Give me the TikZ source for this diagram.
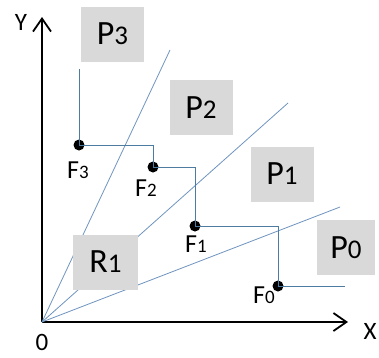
\documentclass[tikz,border=0pt]{standalone}
\usepackage{fontspec}
\setmainfont{Carlito}
\usetikzlibrary{arrows.meta,calc,positioning}

\definecolor{boxgray}{RGB}{217,217,217}
\definecolor{rayblue}{RGB}{110,148,190}
\definecolor{stepblue}{RGB}{78,124,160}

% region label: big letter, smaller index on the same baseline
\newcommand{\reglab}[2]{\fontsize{34}{34}\selectfont #1\fontsize{27}{27}\selectfont #2}
% point label
\newcommand{\ptlab}[2]{\fontsize{26}{26}\selectfont #1\fontsize{19}{19}\selectfont #2}

\tikzset{
  region/.style={fill=boxgray,inner sep=0pt,minimum width=63pt,minimum height=55pt},
  ray/.style={rayblue,line width=0.8pt},
  stepline/.style={stepblue,line width=0.9pt},
  fpoint/.style={circle,fill=black,inner sep=0pt,minimum size=11pt},
  axis/.style={line width=1.8pt,-{Straight Barb[length=13pt,width=18pt,line width=1.8pt]}},
  axlab/.style={inner sep=0pt,font=\fontsize{25}{25}\selectfont}
}

\begin{document}
\begin{tikzpicture}[x=1pt,y=-1pt]
    \useasboundingbox (0,0) rectangle (379,357);

    % axes
    \coordinate (O) at (42,322);
    \coordinate (xend) at (348,322);
    \coordinate (yend) at (42,17);
    \draw[axis] (O) -- (xend);
    \draw[axis] (O) -- (yend);
    \node[axlab] (ylab) at (21,22) {Y};
    \node[axlab] (xlab) at (370,331) {X};
    \node[axlab,font=\fontsize{25}{25}\selectfont] (olab) at (42,342) {0};

    % rays from the origin
    \coordinate (r3) at (170,50);
    \coordinate (r2) at (288,103);
    \coordinate (r1) at (340,207);
    \draw[ray] (O) -- (r3);
    \draw[ray] (O) -- (r2);
    \draw[ray] (O) -- (r1);

    % regions
    \node[region] (P3) at (112.5,34) {\reglab{P}{3}};
    \node[region] (P2) at (201,107.5) {\reglab{P}{2}};
    \node[region] (P1) at (282,174) {\reglab{P}{1}};
    \node[region,minimum width=58pt] (P0) at (346,247.5) {\reglab{P}{0}};
    \node[region,minimum width=65pt] (R1) at (105.5,262) {\reglab{R}{1}};

    % points
    \node[fpoint] (F3) at (79,145) {};
    \node[fpoint] (F2) at (153,167) {};
    \node[fpoint] (F1) at (195,226) {};
    \node[fpoint] (F0) at (278,286) {};
    \coordinate (s3) at (79,69);
    \coordinate (s0) at (345,286);

    % staircase
    \draw[stepline] (s3) -- (F3.center) -| (F2.center)
      -| (F1.center) -| (F0.center) -- (s0);

    % point labels
    \node[inner sep=0pt] (F3lab) at (78,170) {\ptlab{F}{3}};
    \node[inner sep=0pt] (F2lab) at (146,188) {\ptlab{F}{2}};
    \node[inner sep=0pt] (F1lab) at (196,244) {\ptlab{F}{1}};
    \node[inner sep=0pt] (F0lab) at (264,295) {\ptlab{F}{0}};
  \end{tikzpicture}
\end{document}
